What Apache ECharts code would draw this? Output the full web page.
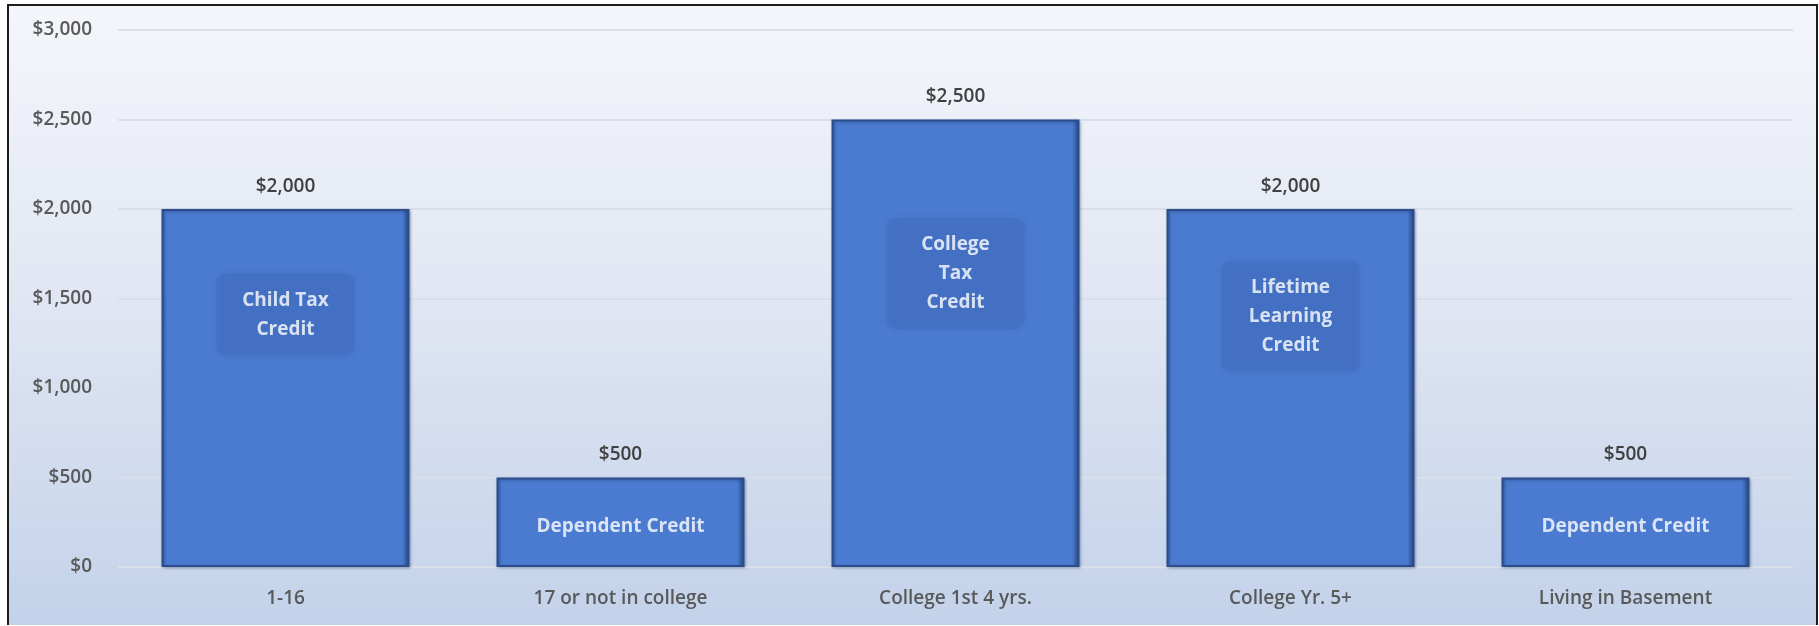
<!DOCTYPE html>
<html>
<head>
<meta charset="utf-8">
<script src="https://cdn.jsdelivr.net/npm/echarts@6/dist/echarts.min.js"></script>
<style>
  html, body { margin: 0; padding: 0; background: #ffffff; width: 1819px; height: 626px; overflow: hidden; }
  #frame {
    position: absolute; left: 7px; top: 4px;
    width: 1807px; height: 619px;
    border-left: 2px solid #1c1c1c;
    border-top: 2px solid #1c1c1c;
    border-right: 2px solid #1c1c1c;
    background: linear-gradient(to bottom, #f4f6fb 0%, #e2e7f3 45%, #c3d2ea 100%);
  }
  #chart { width: 1807px; height: 614px; }
</style>
</head>
<body>
<div id="frame"><div id="chart"></div></div>
<script>
// ---- data ----
const categories = ["1-16", "17 or not in college", "College 1st 4 yrs.", "College Yr. 5+", "Living in Basement"];
const creditValues = [2000, 500, 2500, 2000, 500];
const creditNames = ["Child Tax\nCredit", "Dependent Credit", "College\nTax\nCredit", "Lifetime\nLearning\nCredit", "Dependent Credit"];
const creditNameLevels = [1410, 225, 1640, 1400, 225];
const creditNameBoxed = [true, false, true, true, false];
const yTicks = { min: 0, max: 3000, interval: 500 };

const fmt = v => '$' + Number(v).toLocaleString('en-US');
const FONT = '"Open Sans", "Noto Sans", sans-serif';

const chart = echarts.init(document.getElementById('chart'), null, { renderer: 'canvas' });

const barGradient = new echarts.graphic.LinearGradient(0, 0, 1, 0, [
  { offset: 0, color: '#3a64ae' },
  { offset: 0.02, color: '#4a7bd0' },
  { offset: 0.97, color: '#4a7bd0' },
  { offset: 1, color: '#26467f' }
]);

chart.setOption({
  backgroundColor: 'transparent',
  animation: false,
  grid: { left: 109, right: 23, top: 24, bottom: 53, containLabel: false },
  xAxis: {
    type: 'category',
    data: categories,
    axisLine: { show: false },
    axisTick: { show: false },
    axisLabel: { color: '#595959', fontSize: 19, fontWeight: 600, fontFamily: FONT, margin: 22 },
    splitLine: { show: false }
  },
  yAxis: {
    type: 'value',
    min: yTicks.min, max: yTicks.max, interval: yTicks.interval,
    axisLine: { show: false },
    axisTick: { show: false },
    axisLabel: { color: '#595959', fontSize: 19, fontWeight: 600, fontFamily: FONT, margin: 26, formatter: fmt },
    splitLine: { lineStyle: { color: '#d9dfea', width: 2 } }
  },
  series: [
    {
      type: 'bar',
      data: creditValues,
      barWidth: 248,
      itemStyle: {
        color: barGradient,
        borderColor: '#2c4d8c',
        borderWidth: 2,
        shadowColor: 'rgba(20,40,90,0.35)',
        shadowBlur: 3,
        shadowOffsetX: 1,
        shadowOffsetY: 1
      },
      label: {
        show: true, position: 'top', distance: 13,
        color: '#404040', fontSize: 19, fontWeight: 600, fontFamily: FONT,
        formatter: p => fmt(p.value)
      },
      z: 2
    },
    {
      type: 'scatter',
      symbolSize: 0,
      silent: true,
      data: creditNameLevels.map((v, i) => ({
        value: [i, v],
        label: creditNameBoxed[i] ? {} : { backgroundColor: 'transparent', shadowBlur: 0, padding: 0 }
      })),
      label: {
        show: true, position: 'inside',
        formatter: p => creditNames[p.dataIndex],
        color: '#ffffff', fontSize: 19, fontWeight: 'bold', fontFamily: FONT,
        lineHeight: 29, align: 'center', verticalAlign: 'middle',
        backgroundColor: '#4371c3',
        borderRadius: 9,
        padding: [12, 22, 12, 22],
        width: 94,
        shadowColor: 'rgba(60,100,180,0.6)',
        shadowBlur: 6
      },
      z: 5
    }
  ]
});
</script>
</body>
</html>
